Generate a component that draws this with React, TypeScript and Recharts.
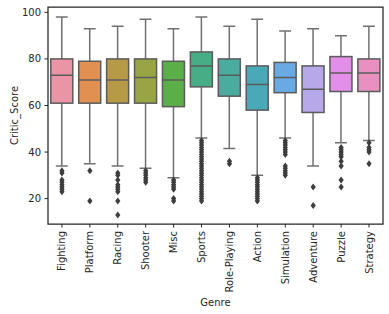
import {
  ComposedChart,
  Bar,
  Scatter,
  XAxis,
  YAxis,
  ReferenceArea,
} from "recharts";

const genres = [
  "Fighting",
  "Platform",
  "Racing",
  "Shooter",
  "Misc",
  "Sports",
  "Role-Playing",
  "Action",
  "Simulation",
  "Adventure",
  "Puzzle",
  "Strategy",
];

const whiskerLow = [34, 35, 34, 33, 29, 46, 41.5, 30, 46, 34, 44, 45];
const q1 = [61, 61, 61, 61, 59.5, 68, 64, 58, 65.5, 57, 66, 66];
const medians = [73, 71, 71, 72, 71, 77, 73, 69, 72, 67, 74, 74];
const q3 = [80, 79, 80, 80, 79, 83, 80, 77, 78.5, 77, 81, 80];
const whiskerHigh = [98, 93, 94, 97, 93, 98, 94, 97, 92, 93, 90, 94];

const outliers: number[][] = [
  [32, 31, 28, 27, 26, 25, 24, 23],
  [32, 19],
  [31, 30, 28, 26, 25, 24, 23, 19, 13],
  [32, 31, 30, 29, 28, 27],
  [28, 27, 26, 25, 24, 20, 19],
  [45, 44, 43, 42, 41, 40, 39, 38, 37, 36, 35, 34, 33, 32, 31, 30, 29, 28, 27, 26, 25, 24, 23, 22, 21, 20, 19],
  [36, 35],
  [29, 28, 27, 26, 25, 24, 23, 22, 21, 20, 19],
  [45, 44, 43, 42, 41, 40, 39, 34, 33, 32, 31, 30],
  [25, 17],
  [42, 41, 40, 39, 38, 36, 34, 28, 25],
  [44, 42, 41, 40, 35],
];

const boxColors = [
  "#e995a5",
  "#e28f52",
  "#b79a45",
  "#99a445",
  "#5aaf48",
  "#47ad87",
  "#4aab9f",
  "#4aa9b8",
  "#69aae3",
  "#b7a8ea",
  "#e38ee8",
  "#e890c0",
];

const boxData = genres.map((genre, i) => ({
  genre,
  range: [whiskerLow[i], whiskerHigh[i]],
  q1: q1[i],
  median: medians[i],
  q3: q3[i],
  fill: boxColors[i],
}));

const outlierData = genres.flatMap((genre, i) =>
  outliers[i].map((value) => ({ genre, value })),
);

const INK = "#262626";
const LINE = "#5b5b5b";
const FONT = "DejaVu Sans, sans-serif";

function BoxShape(props: any) {
  const { x, y, width, height, payload } = props;
  const [low, high] = payload.range;
  const py = (v: number) => y + ((high - v) / (high - low)) * height;
  const cx = x + width / 2;
  const capHalf = width * 0.27;
  const top = py(payload.q3);
  const bottom = py(payload.q1);
  return (
    <g>
      <line x1={cx} x2={cx} y1={y} y2={top} stroke="#707070" strokeWidth={1.5} />
      <line x1={cx} x2={cx} y1={bottom} y2={y + height} stroke="#707070" strokeWidth={1.5} />
      <line x1={cx - capHalf} x2={cx + capHalf} y1={y} y2={y} stroke="#707070" strokeWidth={1.5} />
      <line
        x1={cx - capHalf}
        x2={cx + capHalf}
        y1={y + height}
        y2={y + height}
        stroke="#707070"
        strokeWidth={1.5}
      />
      <rect
        x={x}
        y={top}
        width={width}
        height={bottom - top}
        fill={payload.fill}
        stroke={LINE}
        strokeWidth={1.5}
      />
      <line
        x1={x}
        x2={x + width}
        y1={py(payload.median)}
        y2={py(payload.median)}
        stroke={LINE}
        strokeWidth={1.5}
      />
    </g>
  );
}

function Diamond(props: any) {
  const { cx, cy } = props;
  if (cx == null || cy == null) return null;
  return (
    <polygon
      points={`${cx},${cy - 3.5} ${cx + 2.6},${cy} ${cx},${cy + 3.5} ${cx - 2.6},${cy}`}
      fill="#3d3d3d"
    />
  );
}

function GenreTick(props: any) {
  const { x, y, payload } = props;
  return (
    <text
      transform={`translate(${x},${y}) rotate(-90)`}
      textAnchor="end"
      dominantBaseline="central"
      fontSize={10}
      fontFamily={FONT}
      fill={INK}
    >
      {payload.value}
    </text>
  );
}

export default function App() {
  return (
    <div style={{ position: "absolute", left: 0, top: 0, background: "#fff" }}>
      <ComposedChart
        width={389}
        height={314}
        data={boxData}
        margin={{ top: 7, right: 6, left: 0, bottom: 0 }}
        barCategoryGap="10%"
      >
        <XAxis
          dataKey="genre"
          type="category"
          allowDuplicatedCategory={false}
          height={90}
          axisLine={false}
          tickLine={{ stroke: INK, strokeWidth: 1 }}
          tickSize={3.5}
          tickMargin={3.5}
          interval={0}
          tick={<GenreTick />}
          label={{
            value: "Genre",
            position: "insideBottom",
            offset: 8,
            fontSize: 10,
            fontFamily: FONT,
            fill: INK,
          }}
        />
        <YAxis
          type="number"
          domain={[9.1, 102.3]}
          allowDataOverflow
          ticks={[20, 40, 60, 80, 100]}
          width={48}
          axisLine={false}
          tickLine={{ stroke: INK, strokeWidth: 1 }}
          tickSize={3.5}
          tickMargin={3.5}
          tick={{ fontSize: 10, fontFamily: FONT, fill: INK }}
          label={{
            value: "Critic_Score",
            angle: -90,
            position: "insideLeft",
            offset: 14,
            fontSize: 10,
            fontFamily: FONT,
            fill: INK,
            style: { textAnchor: "middle" },
          }}
        />
        <Bar dataKey="range" shape={<BoxShape />} isAnimationActive={false} />
        <Scatter
          data={outlierData}
          dataKey="value"
          shape={<Diamond />}
          isAnimationActive={false}
        />
        <ReferenceArea
          y1={9.1}
          y2={102.3}
          fill="none"
          stroke={INK}
          strokeWidth={1.25}
          ifOverflow="visible"
        />
      </ComposedChart>
    </div>
  );
}
